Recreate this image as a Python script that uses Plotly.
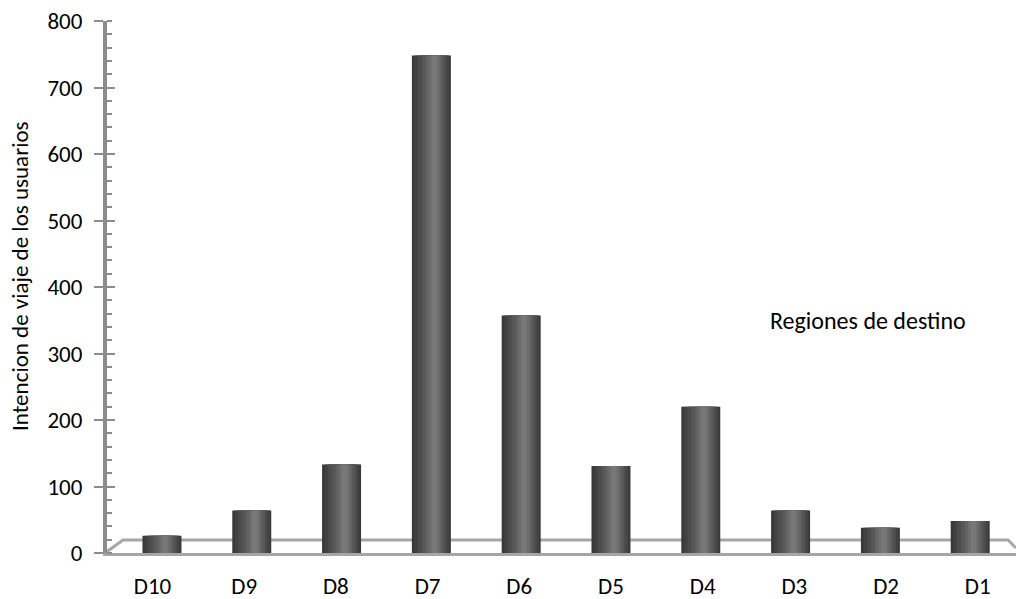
import plotly.graph_objects as go

# Intención de viaje por región de destino
regiones = ["D10", "D9", "D8", "D7", "D6", "D5", "D4", "D3", "D2", "D1"]
intencion = [26, 64, 133, 748, 357, 131, 220, 64, 38, 48]

y_ticks = [0, 100, 200, 300, 400, 500, 600, 700, 800]

FONT = "Calibri, Carlito, Lato, sans-serif"
AXIS_GRAY = "#8c8c8c"
FLOOR_GRAY = "#a6a6a6"

# Cylinder shading: nested vertical strips (fraction of bar width, colour)
BAR_W = 0.434
shading = [
    (0.00, 1.00, "#393939"),
    (0.07, 0.96, "#424242"),
    (0.16, 0.90, "#4c4c4c"),
    (0.26, 0.84, "#575757"),
    (0.36, 0.77, "#636363"),
    (0.44, 0.71, "#6e6e6e"),
    (0.51, 0.65, "#787878"),
]

fig = go.Figure()
for left, right, color in shading:
    fig.add_trace(go.Bar(
        x=list(range(len(regiones))),
        y=intencion,
        width=(right - left) * BAR_W,
        offset=-BAR_W / 2 + left * BAR_W,
        marker=dict(color=color, line=dict(width=0)),
        hoverinfo="skip",
        showlegend=False,
    ))

# Axis carrying the category labels (slightly wider spacing than the bars)
fig.add_trace(go.Scatter(
    x=list(range(len(regiones))), y=[None] * len(regiones),
    xaxis="x2", yaxis="y", showlegend=False, hoverinfo="skip",
))

# Dummy trace so the inside major ticks axis is rendered
fig.add_trace(go.Scatter(x=[None], y=[None], yaxis="y2", showlegend=False,
                         hoverinfo="skip"))

PX_L, PX_R, PX_T, PX_B = 107, 1016, 21, 553
W, H = PX_R - PX_L, PX_B - PX_T


def px(xp):
    return (xp - PX_L) / W


def py(yp):
    return (PX_B - yp) / H


# Floor of the plot area
floor_path = (
    f"M {px(105)} {py(553)} L {px(123)} {py(540)} "
    f"L {px(1008)} {py(540)} L {px(1016)} {py(548)}"
)

fig.update_layout(
    width=1016, height=599,
    margin=dict(l=PX_L, r=1016 - PX_R, t=PX_T, b=599 - PX_B),
    paper_bgcolor="white", plot_bgcolor="white",
    barmode="overlay",
    font=dict(family=FONT, size=23, color="#000000"),
    xaxis=dict(
        range=[-0.612, 9.51],
        showticklabels=False, ticks="",
        showgrid=False, zeroline=False,
        showline=True, linecolor=FLOOR_GRAY, linewidth=3,
    ),
    xaxis2=dict(
        overlaying="x", anchor="y", side="bottom",
        range=[-0.496, 9.417],
        tickmode="array", tickvals=list(range(len(regiones))), ticktext=regiones,
        ticks="", showgrid=False, zeroline=False, showline=False,
        ticklabelstandoff=17,
        tickfont=dict(family=FONT, size=23, color="#000000"),
    ),
    yaxis=dict(
        range=[0, 800],
        tickmode="array", tickvals=y_ticks,
        ticks="outside", ticklen=9, tickwidth=2, tickcolor=AXIS_GRAY,
        minor=dict(ticks="inside", dtick=20, ticklen=5, tickwidth=2,
                   tickcolor=AXIS_GRAY, showgrid=False),
        showline=True, linecolor=AXIS_GRAY, linewidth=4,
        showgrid=False, zeroline=False,
        ticklabelstandoff=7,
        tickfont=dict(family=FONT, size=23, color="#000000"),
    ),
    yaxis2=dict(
        overlaying="y", anchor="x", side="left",
        range=[0, 800],
        tickmode="array", tickvals=y_ticks,
        ticks="inside", ticklen=8, tickwidth=2, tickcolor=AXIS_GRAY,
        showticklabels=False, showgrid=False, zeroline=False, showline=False,
    ),
    shapes=[dict(
        type="path", path=floor_path, xref="paper", yref="paper",
        line=dict(color=FLOOR_GRAY, width=3), layer="below",
    )],
    annotations=[
        dict(
            text="Intencion de viaje de los usuarios", textangle=-90,
            xref="paper", yref="paper", x=px(20), y=py(276),
            xanchor="center", yanchor="middle", showarrow=False,
            font=dict(family=FONT, size=23, color="#000000"),
        ),
        dict(
            text="Regiones de destino", xref="paper", yref="paper",
            x=px(868), y=py(320), xanchor="center", yanchor="middle",
            showarrow=False, font=dict(family=FONT, size=24, color="#000000"),
        ),
    ],
)

fig.write_html("out.html")
